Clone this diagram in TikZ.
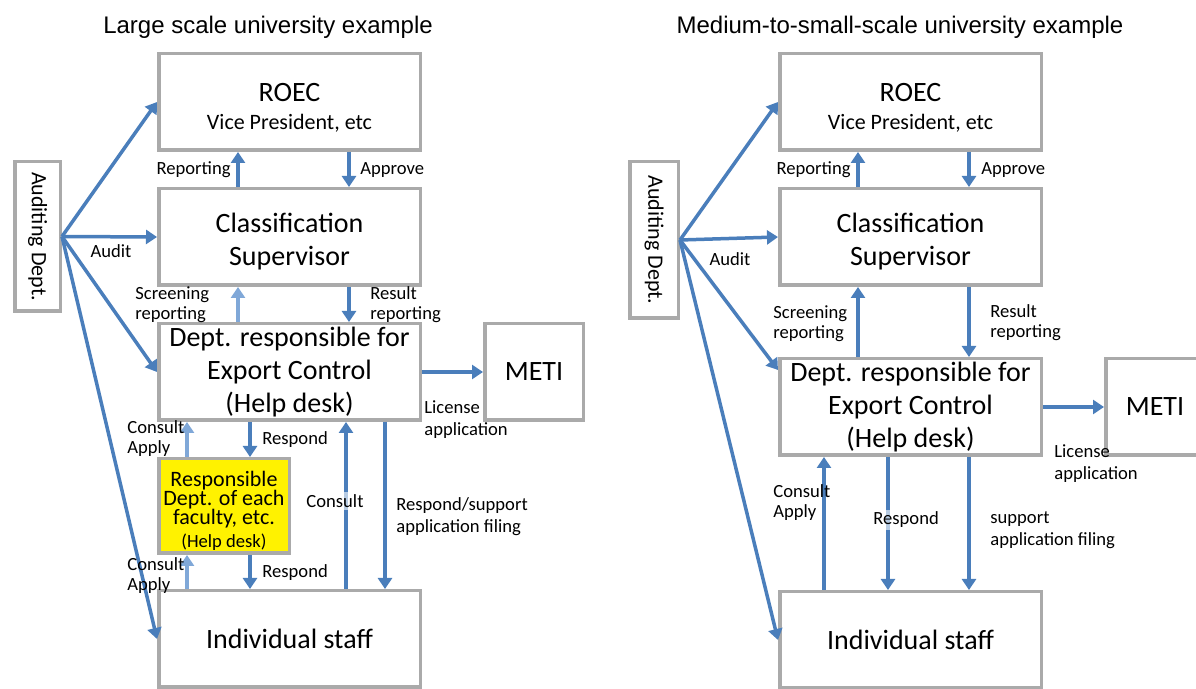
\documentclass[tikz,border=0pt]{standalone}
\usepackage{fontspec}
\setmainfont{Carlito}
\newfontfamily\titlefont{Liberation Sans}
\usetikzlibrary{arrows.meta, positioning, calc}
\definecolor{boxgray}{RGB}{170,170,170}
\definecolor{arrowblue}{RGB}{74,126,187}
\definecolor{liteblue}{RGB}{128,168,216}

\begin{document}
\begin{tikzpicture}[x=0.5pt, y=-0.5pt,
	box/.style={draw=boxgray, line width=1.75pt, fill=white, align=center, inner sep=0pt, minimum width=130.75pt, minimum height=48.25pt, font=\fontsize{14}{16.5}\selectfont},
	post/.style={-{Triangle[length=5.5pt, width=7pt]}, line width=1.75pt, arrowblue},
	pale/.style={post, liteblue},
	lbl/.style={inner sep=0pt, align=left, font=\fontsize{9.3}{10}\selectfont},
	widelbl/.style={lbl, font=\fontsize{9.3}{11}\selectfont},
	tag/.style={lbl, fill=white, fill opacity=0.6, text opacity=1, inner sep=1pt},
	heading/.style={font=\titlefont\fontsize{12}{14}\selectfont}]

	\path[use as bounding box] (0,0) rectangle (1196,689);
	\clip (0,0) rectangle (1196,689);

	% large scale university
	\node[heading] (T1) at (268,27) {Large scale university example};
	\node[box] (ROEC1) at (289.5,102)
		{\rule{0pt}{14.5pt}ROEC\\[-2.5pt]{\fontsize{11}{13}\selectfont Vice President, etc}};
	\node[box] (CS1) [below=17.5pt of ROEC1] {\rule{0pt}{14.5pt}Classification\\Supervisor};
	\node[box] (DEC1) [below=17.5pt of CS1] {Dept. responsible for\\Export Control\\(Help desk)};
	\node[box, minimum width=49.25pt] (METI1) [right=30.5pt of DEC1] {METI};
	\node[box, fill=yellow, minimum width=65.25pt, minimum height=47.25pt, font=\fontsize{11}{9.5}\selectfont] (RDF1)
		[below right=17.5pt and 0pt of DEC1.south west]
		{\rule{0pt}{12.5pt}Responsible\\Dept. of each\\faculty, etc.\\[2pt]{\fontsize{9.3}{10}\selectfont (Help desk)}};
	\node[box] (IS1) [below=83.5pt of DEC1] {Individual staff};
	\node[box, rotate=-90, minimum width=74.75pt, minimum height=22.75pt, font=\fontsize{11}{13}\selectfont] (AD1)
		at (37.5,236.5) {Auditing Dept.};

	\draw[post] (AD1.north) -- (ROEC1.west);
	\draw[post] (AD1.north) -- (CS1.west);
	\draw[post] (AD1.north) -- (DEC1.west);
	\draw[post] (AD1.north) -- (IS1.west);

	\draw[post] ($(CS1.north)+(-51.5,0)$) -- ($(ROEC1.south)+(-51.5,0)$);
	\draw[post] ($(ROEC1.south)+(59.5,0)$) -- ($(CS1.north)+(59.5,0)$);
	\draw[pale] ($(DEC1.north)+(-51.5,0)$) -- ($(CS1.south)+(-51.5,0)$);
	\draw[post] ($(CS1.south)+(59.5,0)$) -- ($(DEC1.north)+(59.5,0)$);
	\draw[post] (DEC1.east) -- (METI1.west);
	\draw[pale] ($(RDF1.north)+(-37,0)$) -- ($(DEC1.south)+(-102.5,0)$);
	\draw[post] ($(DEC1.south)+(-39.5,0)$) -- ($(RDF1.north)+(26,0)$);
	\draw[pale] ($(IS1.north)+(-102.5,0)$) -- ($(RDF1.south)+(-37,0)$);
	\draw[post] ($(RDF1.south)+(26,0)$) -- ($(IS1.north)+(-39.5,0)$);
	\draw[post] ($(IS1.north)+(56.5,0)$) -- ($(DEC1.south)+(56.5,0)$);
	\draw[post] ($(DEC1.south)+(95.5,0)$) -- ($(IS1.north)+(95.5,0)$);

	\node[lbl, anchor=east] (R1) at (231,170) {Reporting};
	\node[lbl, anchor=west] (A1) at (360,170) {Approve};
	\node[lbl] (AU1) at (111,251) {Audit};
	\node[lbl, anchor=west] (SR1) at (135,304.5) {Screening\\reporting};
	\node[lbl, anchor=west] (RR1) at (370,304.5) {Result\\reporting};
	\node[widelbl, anchor=west] (LA1) at (424,419.5) {License\\application};
	\node[lbl, anchor=west] (CA1) at (127,439) {Consult\\Apply};
	\node[lbl, anchor=west] (RS1) at (262,440) {Respond};
	\node[tag] (CO1) at (335,501) {Consult};
	\node[widelbl, anchor=west] (RF1) at (396,517) {Respond/support\\application filing};
	\node[lbl, anchor=west] (CB1) at (127,575.5) {Consult\\Apply};
	\node[lbl, anchor=west] (RB1) at (262,573) {Respond};

	% medium-to-small scale university
	\node[heading] (T2) at (900,27) {Medium-to-small-scale university example};
	\node[box] (ROEC2) at (910.5,102)
		{\rule{0pt}{14.5pt}ROEC\\[-2.5pt]{\fontsize{11}{13}\selectfont Vice President, etc}};
	\node[box] (CS2) [below=17.5pt of ROEC2] {\rule{0pt}{14.5pt}Classification\\Supervisor};
	\node[box] (DEC2) [below=35pt of CS2] {Dept. responsible for\\Export Control\\(Help desk)};
	\node[box, minimum width=49.25pt] (METI2) [right=30.5pt of DEC2] {METI};
	\node[box] (IS2) [below=66.5pt of DEC2] {Individual staff};
	\node[box, rotate=-90, minimum width=78.25pt, minimum height=24.25pt, font=\fontsize{11}{13}\selectfont] (AD2)
		at (654,240) {Auditing Dept.};

	\draw[post] (AD2.north) -- (ROEC2.west);
	\draw[post] (AD2.north) -- (CS2.west);
	\draw[post] (AD2.north) -- ($(DEC2.north west)+(0,13)$);
	\draw[post] (AD2.north) -- (IS2.west);

	\draw[post] ($(CS2.north)+(-52.5,0)$) -- ($(ROEC2.south)+(-52.5,0)$);
	\draw[post] ($(ROEC2.south)+(58.5,0)$) -- ($(CS2.north)+(58.5,0)$);
	\draw[post] ($(DEC2.north)+(-52.5,0)$) -- ($(CS2.south)+(-52.5,0)$);
	\draw[post] ($(CS2.south)+(58.5,0)$) -- ($(DEC2.north)+(58.5,0)$);
	\draw[post] (DEC2.east) -- (METI2.west);
	\draw[post] ($(IS2.north)+(-86.5,0)$) -- ($(DEC2.south)+(-86.5,0)$);
	\draw[post] ($(DEC2.south)+(-22.5,0)$) -- ($(IS2.north)+(-22.5,0)$);
	\draw[post] ($(DEC2.south)+(58.5,0)$) -- ($(IS2.north)+(58.5,0)$);

	\node[lbl, anchor=east] (R2) at (851,170) {Reporting};
	\node[lbl, anchor=west] (A2) at (981,170) {Approve};
	\node[lbl] (AU2) at (730,259) {Audit};
	\node[lbl, anchor=west] (SR2) at (773,323.5) {Screening\\reporting};
	\node[lbl, anchor=west] (RR2) at (990,322.5) {Result\\reporting};
	\node[widelbl, anchor=west] (LA2) at (1054,464) {License\\application};
	\node[lbl, anchor=west] (CA2) at (773,502.5) {Consult\\Apply};
	\node[tag, anchor=west] (RS2) at (871,520) {Respond};
	\node[widelbl, anchor=west] (SF2) at (990,530.5) {support\\application filing};

\end{tikzpicture}
\end{document}
